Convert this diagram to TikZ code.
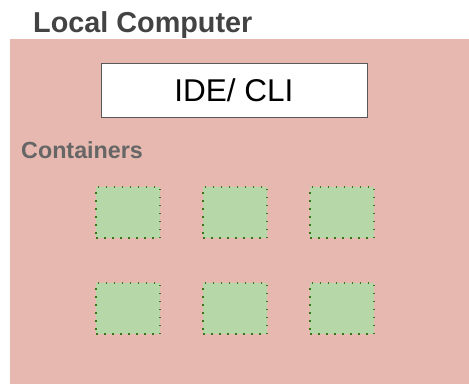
\documentclass[tikz,border=0pt]{standalone}
\usepackage{fontspec}
\setmainfont{Liberation Sans}
\usetikzlibrary{positioning}
\definecolor{fondo}{HTML}{E6B8AF}
\definecolor{verde}{HTML}{B6D7A8}
\definecolor{verdeosc}{HTML}{38761D}
\definecolor{gristxt}{HTML}{434343}
\definecolor{grisclaro}{HTML}{666666}
\definecolor{borde}{HTML}{595959}
\tikzset{
	titulo/.style={anchor=base west, inner sep=0pt, text=gristxt,
		font=\fontsize{28.8}{30}\selectfont\bfseries},
	subtitulo/.style={anchor=base west, inner sep=0pt, text=grisclaro,
		font=\fontsize{23.3}{25}\selectfont\bfseries},
	maquina/.style={rectangle, fill=fondo, anchor=north west, inner sep=0pt,
		minimum width=459pt, minimum height=345.5pt},
	herramienta/.style={rectangle, fill=white, draw=borde, line width=0.9pt,
		minimum width=266pt, minimum height=54pt, font=\fontsize{31.5}{33}\selectfont},
	contenedor/.style={rectangle, fill=verde, draw=verdeosc, line width=1.5pt,
		dash pattern=on 1.5pt off 6.5pt, minimum width=64pt, minimum height=51pt,
		inner sep=0pt, outer sep=0pt}
}

\begin{document}
\begin{tikzpicture}[x=1pt, y=-1pt, node distance=45pt and 43pt]
	\useasboundingbox (0,0) rectangle (469,384);
	
	\node[maquina] (local) at (10,38.5) {};
	\node[titulo] (tlocal) at (33,32) {Local Computer};
	
	\node[herramienta] (ide) at (234,90) {IDE/ CLI};
	\node[subtitulo] (tcont) at (21,158) {Containers};
	
	% contenedores, dos filas de tres
	\node[contenedor, anchor=north west] (c11) at (96,187) {};
	\node[contenedor, right=of c11] (c12) {};
	\node[contenedor, right=of c12] (c13) {};
	\node[contenedor, below=of c11] (c21) {};
	\node[contenedor, right=of c21] (c22) {};
	\node[contenedor, right=of c22] (c23) {};
\end{tikzpicture}
\end{document}
